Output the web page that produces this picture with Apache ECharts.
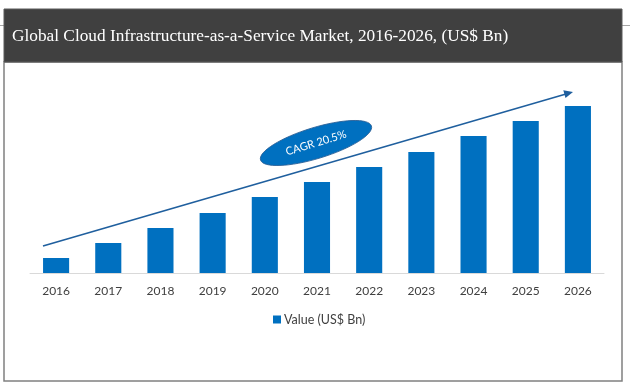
<!DOCTYPE html>
<html>
<head>
<meta charset="utf-8">
<script src="https://cdn.jsdelivr.net/npm/echarts@6/dist/echarts.min.js"></script>
<style>
html,body{margin:0;padding:0;background:#fff;}
#chart{width:630px;height:386px;}
</style>
</head>
<body>
<div id="chart"></div>
<script>
// Data (relative values; no value axis shown)
var years = ['2016','2017','2018','2019','2020','2021','2022','2023','2024','2025','2026'];
var values = [15, 30, 45, 60, 76, 91, 106, 121, 137, 152, 167];
var seriesName = 'Value (US$ Bn)';
var titleText = 'Global Cloud Infrastructure-as-a-Service Market, 2016-2026, (US$ Bn)';
var cagrText = 'CAGR 20.5%';

var chart = echarts.init(document.getElementById('chart'), null, {renderer:'canvas'});
var ang = 17 * Math.PI / 180;
var option = {
  backgroundColor: '#ffffff',
  animation: false,
  grid: { left: 30, right: 26, top: 100, bottom: 113, containLabel: false },
  xAxis: {
    type: 'category',
    data: years,
    axisLine: { show: true, lineStyle: { color: '#d9d9d9', width: 1 } },
    axisTick: { show: false },
    axisLabel: { color: '#404040', fontSize: 12, fontFamily: 'Lato', margin: 12 }
  },
  yAxis: {
    type: 'value', min: 0, max: 173, show: false,
    splitLine: { show: false }
  },
  legend: {
    data: [seriesName],
    left: 268, top: 308,
    icon: 'rect', itemWidth: 8, itemHeight: 8, itemGap: 10,
    textStyle: { color: '#404040', fontSize: 12.5, fontFamily: 'Lato', padding: [0, 0, 0, -2] }
  },
  series: [{
    name: seriesName,
    type: 'bar',
    data: values,
    barWidth: '50%',
    itemStyle: { color: '#0070C0' }
  }],
  graphic: [
    { type: 'line', z: 1, shape: { x1: 0, y1: 25.5, x2: 630, y2: 25.5 }, style: { stroke: '#a6a6a6', lineWidth: 1 } },
    { type: 'rect', z: 2, shape: { x: 4, y: 9, width: 618, height: 53 }, style: { fill: '#404040', stroke: '#5a5a5a', lineWidth: 1 } },
    { type: 'text', z: 3, x: 12, y: 36, style: { text: titleText, fill: '#ffffff', font: '17.3px "Liberation Serif"', textVerticalAlign: 'middle', verticalAlign: 'middle' } },
    { type: 'rect', z: 1, shape: { x: 4, y: 62, width: 618, height: 319 }, style: { fill: 'none', stroke: '#808080', lineWidth: 1.5 } },
    { type: 'line', z: 5, shape: { x1: 43, y1: 246, x2: 566, y2: 94 }, style: { stroke: '#1f5f9e', lineWidth: 1.6 } },
    { type: 'polygon', z: 5, shape: { points: [[573, 92], [563.3, 90.2], [565.5, 97.9]] }, style: { fill: '#1f5f9e' } },
    { type: 'ellipse', z: 6, x: 316, y: 143, rotation: ang, shape: { cx: 0, cy: 0, rx: 58, ry: 15.5 }, style: { fill: '#0070C0', stroke: '#2a5f95', lineWidth: 0.8 } },
    { type: 'text', z: 7, x: 316, y: 143, rotation: ang, style: { text: cagrText, fill: '#ffffff', font: '11px Lato', align: 'center', verticalAlign: 'middle' } }
  ]
};
chart.setOption(option);
</script>
</body>
</html>
